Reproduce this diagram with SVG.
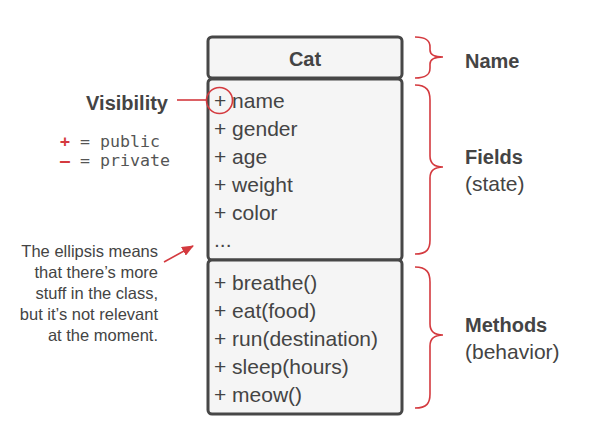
<svg xmlns="http://www.w3.org/2000/svg" width="591" height="437" viewBox="0 0 591 437">
<style>
.box{fill:#f5f5f5;stroke:#474747;stroke-width:3}
.t{font-family:"Liberation Sans",Arial,sans-serif;fill:#444}
.m{font-size:21px}
.b{font-weight:bold}
.red{stroke:#d43a3f;fill:none;stroke-width:1.6}
.mono{font-family:"DejaVu Sans Mono","Liberation Mono",monospace;font-size:16.6px;fill:#555}
</style>
<defs>
<marker id="ah" markerWidth="12" markerHeight="10" refX="11" refY="5" orient="auto" markerUnits="userSpaceOnUse">
<path d="M0,0 L12,5 L0,10 Z" fill="#d43a3f"/>
</marker>
</defs>
<rect width="591" height="437" fill="#ffffff"/>
<g id="cat">
<rect class="box" x="208" y="37" width="194" height="41" rx="4"/>
<rect class="box" x="208" y="79" width="194" height="181" rx="4"/>
<rect class="box" x="208" y="260" width="194" height="154" rx="4"/>
<text class="t b" x="305" y="66" font-size="20" text-anchor="middle">Cat</text>
<g class="t m">
<text x="214" y="108">+ name</text>
<text x="214" y="136">+ gender</text>
<text x="214" y="164">+ age</text>
<text x="214" y="192">+ weight</text>
<text x="214" y="220">+ color</text>
<text x="214" y="247">...</text>
<text x="214" y="290">+ breathe()</text>
<text x="214" y="318">+ eat(food)</text>
<text x="214" y="346">+ run(destination)</text>
<text x="214" y="374">+ sleep(hours)</text>
<text x="214" y="402">+ meow()</text>
</g>
</g>
<g id="braces">
<path class="red" d="M415,37 C427,37 430,41 430,47 L430,50 C430,54 434,57 443,57 C434,57 430,60 430,64 L430,68 C430,74 427,78 415,78"/>
<path class="red" d="M415,85 C427,85 430,91 430,100 L430,156 C430,163 434,167 443,167 C434,167 430,171 430,178 L430,240 C430,249 427,254 415,254"/>
<path class="red" d="M415,267 C427,267 430,273 430,282 L430,324 C430,331 434,335 443,335 C434,335 430,339 430,346 L430,394 C430,403 427,408 415,408"/>
</g>
<g id="labels-right" class="t">
<text class="b" x="465" y="68" font-size="20">Name</text>
<text class="b" x="465" y="164" font-size="20">Fields</text>
<text x="465" y="191" font-size="21">(state)</text>
<text class="b" x="465" y="332" font-size="20">Methods</text>
<text x="465" y="359" font-size="21">(behavior)</text>
</g>
<g id="visibility">
<text class="t b" x="168" y="110" font-size="20" text-anchor="end">Visibility</text>
<text class="mono" x="60" y="147"><tspan fill="#d43a3f" font-weight="bold">+</tspan> = public</text>
<text class="mono" x="60" y="166"><tspan fill="#d43a3f" font-weight="bold">–</tspan> = private</text>
</g>
<g id="note" class="t" font-size="16.5" text-anchor="end">
<text x="158" y="257">The ellipsis means</text>
<text x="158" y="278">that there’s more</text>
<text x="158" y="299">stuff in the class,</text>
<text x="158" y="320">but it’s not relevant</text>
<text x="158" y="341">at the moment.</text>
</g>
<g id="connectors">
<line class="red" x1="177" y1="100" x2="206" y2="100"/>
<circle class="red" cx="219.5" cy="100.5" r="13"/>
<line class="red" x1="164" y1="262" x2="193" y2="246" marker-end="url(#ah)"/>
</g>
</svg>
